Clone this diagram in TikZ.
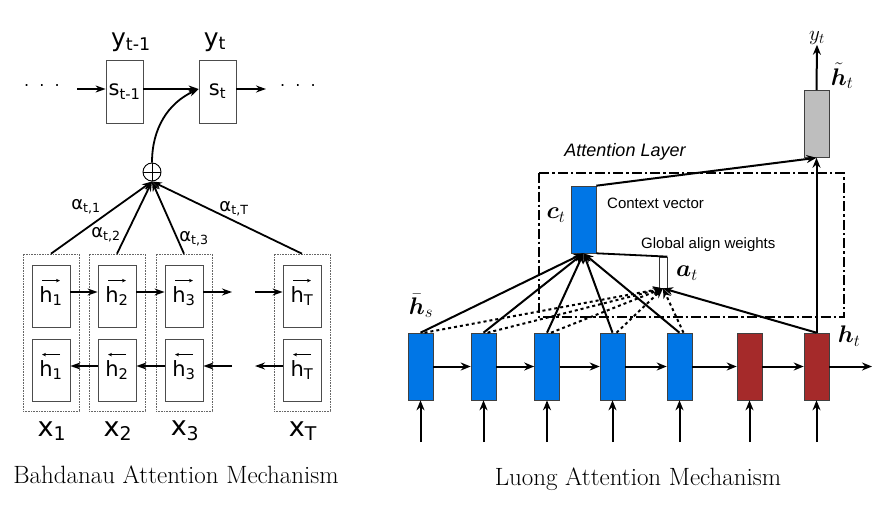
\documentclass[tikz,border=0pt]{standalone}
\usepackage{fix-cm}
\usepackage{amsmath}
\usepackage{fontspec}
\usetikzlibrary{arrows.meta,positioning}

\newfontfamily\dejavu{DejaVu Sans}
\newfontfamily\arial{Liberation Sans}

\definecolor{cellblue}{RGB}{0,118,230}
\definecolor{cellred}{RGB}{165,42,42}
\definecolor{cellgray}{RGB}{190,190,190}

\tikzset{
  sbox/.style={draw=black!70, line width=0.8pt, minimum width=37pt, minimum height=63pt,
    inner sep=0pt, font=\dejavu\fontsize{21}{21}\selectfont},
  hbox/.style={draw=black!70, line width=0.8pt, minimum width=38pt, minimum height=62pt,
    inner sep=0pt, font=\dejavu\fontsize{21}{21}\selectfont},
  colbox/.style={draw=black!60, densely dotted, line width=0.6pt, minimum width=56pt,
    minimum height=157pt, inner sep=0pt},
  ylab/.style={font=\dejavu\fontsize{25}{25}\selectfont, inner sep=0pt},
  xlab/.style={font=\dejavu\fontsize{27}{27}\selectfont, inner sep=0pt},
  alab/.style={font=\dejavu\fontsize{18}{18}\selectfont, inner sep=0pt},
  larr/.style={-{Stealth[length=10pt,width=7pt]}, line width=1.8pt},
  vecarr/.style={-{Stealth[length=4pt,width=3.5pt]}, line width=0.7pt},
  cell/.style={draw=black!75, line width=0.6pt, minimum width=25pt, minimum height=67pt, inner sep=0pt},
  bluecell/.style={cell, fill=cellblue},
  redcell/.style={cell, fill=cellred},
  graycell/.style={cell, fill=cellgray},
  rarr/.style={-{Stealth[length=10pt,width=8pt]}, line width=2pt},
  mlab/.style={font=\fontsize{24}{24}\selectfont, inner sep=0pt},
  slab/.style={font=\arial\fontsize{15}{15}\selectfont, inner sep=0pt, anchor=west},
  title/.style={font=\fontsize{25}{25}\selectfont, inner sep=0pt}
}

\begin{document}
\begin{tikzpicture}[x=1pt, y=-1pt]

  %% Bahdanau
  \node[sbox] (s1) at (124.5,91.5) {s\textsubscript{t-1}};
  \node[sbox] (s2) at (217.5,91.5) {s\textsubscript{t}};
  \node[ylab] (y1) at (131,42) {y\textsubscript{t-1}};
  \node[ylab] (y2) at (215,42) {y\textsubscript{t}};
  \node[font=\dejavu\fontsize{16}{16}\selectfont] (dotsl) at (42,86) {.\ \ .\ \ .};
  \node[font=\dejavu\fontsize{16}{16}\selectfont] (dotsr) at (298,86) {.\ \ .\ \ .};
  \coordinate (sin) at (77,89);
  \coordinate (sout) at (266,89);
  \draw[larr] (sin) -- (s1.west |- sin);
  \draw[larr] (s1.east |- sin) -- (s2.west |- sin);
  \draw[larr] (s2.east |- sin) -- (sout);

  \node[circle, draw, line width=0.9pt, minimum size=18pt, inner sep=0pt] (plus) at (152,172) {};
  \draw[line width=0.9pt] (plus.north) -- (plus.south) (plus.west) -- (plus.east);
  \draw[larr] (plus.north) to[out=90, in=205] (s2.west |- sin);

  % columns
  \foreach \x/\n/\k in {51/1/1, 117/2/2, 184/3/3, 302/T/T} {
    \node[colbox] (col\k) at (\x,332.5) {};
    \node[hbox] (f\k) at (\x,296) {h\textsubscript{\n}};
    \node[hbox] (b\k) at (\x,370) {h\textsubscript{\n}};
    \draw[vecarr] ([xshift=-9pt,yshift=-16pt]f\k.north) -- ([xshift=9pt,yshift=-16pt]f\k.north);
    \draw[vecarr] ([xshift=9pt,yshift=-16pt]b\k.north) -- ([xshift=-9pt,yshift=-16pt]b\k.north);
    \node[xlab] (x\k) at (\x+1,431) {x\textsubscript{\n}};
    \draw[larr] (col\k.north) -- (plus.south);
  }
  \coordinate (fgap1) at (232,292);
  \coordinate (fgap2) at (255,292);
  \coordinate (bgap1) at (232,366);
  \coordinate (bgap2) at (255,366);
  \draw[larr] (f1.east |- fgap1) -- (f2.west |- fgap1);
  \draw[larr] (f2.east |- fgap1) -- (f3.west |- fgap1);
  \draw[larr] (f3.east |- fgap1) -- (fgap1);
  \draw[larr] (fgap2) -- (fT.west |- fgap2);
  \draw[larr] (b2.west |- bgap1) -- (b1.east |- bgap1);
  \draw[larr] (b3.west |- bgap1) -- (b2.east |- bgap1);
  \draw[larr] (bgap1) -- (b3.east |- bgap1);
  \draw[larr] (bT.west |- bgap2) -- (bgap2);

  \node[alab] (a1) at (86,207) {α\textsubscript{t,1}};
  \node[alab] (a2) at (106,235) {α\textsubscript{t,2}};
  \node[alab] (a3) at (194,239) {α\textsubscript{t,3}};
  \node[alab] (aT) at (234,209) {α\textsubscript{t,T}};

  \node[title] (ltitle) at (176,475) {Bahdanau Attention Mechanism};

  %% Luong
  \draw[line width=1.6pt, dash pattern=on 10pt off 3pt on 2.5pt off 3pt] (539,173) rectangle (844,317);
  \node[font=\arial\itshape\fontsize{18}{18}\selectfont, inner sep=0pt] (layer) at (625,152) {Attention Layer};

  \foreach \x [count=\i] in {420.5,483.5,547,612.5,679.5}
    \node[bluecell] (e\i) at (\x,366.5) {};
  \foreach \x [count=\i from 6] in {749.5,816.5}
    \node[redcell] (e\i) at (\x,366.5) {};
  \foreach \i [evaluate=\i as \j using int(\i+1)] in {1,...,6}
    \draw[rarr] (e\i) -- (e\j);
  \coordinate (eout) at (872,366.5);
  \draw[rarr] (e7) -- (eout);
  \foreach \i in {1,...,7} {
    \coordinate (in\i) at (e\i.south |- 0,442);
    \draw[rarr] (in\i) -- (e\i.south);
  }

  \node[bluecell] (ct) at (583.5,219.5) {};
  \node[graycell] (gt) at (816.5,124) {};
  \node[draw=black!80, fill=white, line width=0.8pt, minimum width=8pt, minimum height=31pt, inner sep=0pt] (at) at (663,272.5) {};

  \foreach \i in {1,...,5} {
    \draw[rarr] (e\i.north) -- (ct.south);
    \draw[rarr, dashed] ([xshift=4pt]e\i.north) -- (at.south);
  }
  \draw[rarr] (e7.north) -- (at.south);
  \draw[rarr] (e7.north) -- (gt.south);
  \draw[rarr] (ct.north east) -- (gt.south);
  \draw[line width=1.8pt] (ct.south east) -- (at.north east);

  \node[font=\fontsize{21}{21}\selectfont, inner sep=0pt] (yt) at (817,38) {$y_t$};
  \draw[rarr] (gt.north) -- (yt.south);

  \node[mlab] (htl) at (842,76) {$\tilde{\boldsymbol{h}}_t$};
  \node[mlab] (ctl) at (556,215) {$\boldsymbol{c}_t$};
  \node[mlab] (atl) at (687,273) {$\boldsymbol{a}_t$};
  \node[mlab] (hsl) at (421,306) {$\bar{\boldsymbol{h}}_s$};
  \node[mlab] (hl) at (849,336) {$\boldsymbol{h}_t$};
  \node[slab] (ctx) at (607,203) {Context vector};
  \node[slab] (gaw) at (641,245) {Global align weights};

  \node[title] (rtitle) at (638,479) {Luong Attention Mechanism};

  \pgfresetboundingbox
  \path[use as bounding box] (0,0) rectangle (888,508);
\end{tikzpicture}
\end{document}
